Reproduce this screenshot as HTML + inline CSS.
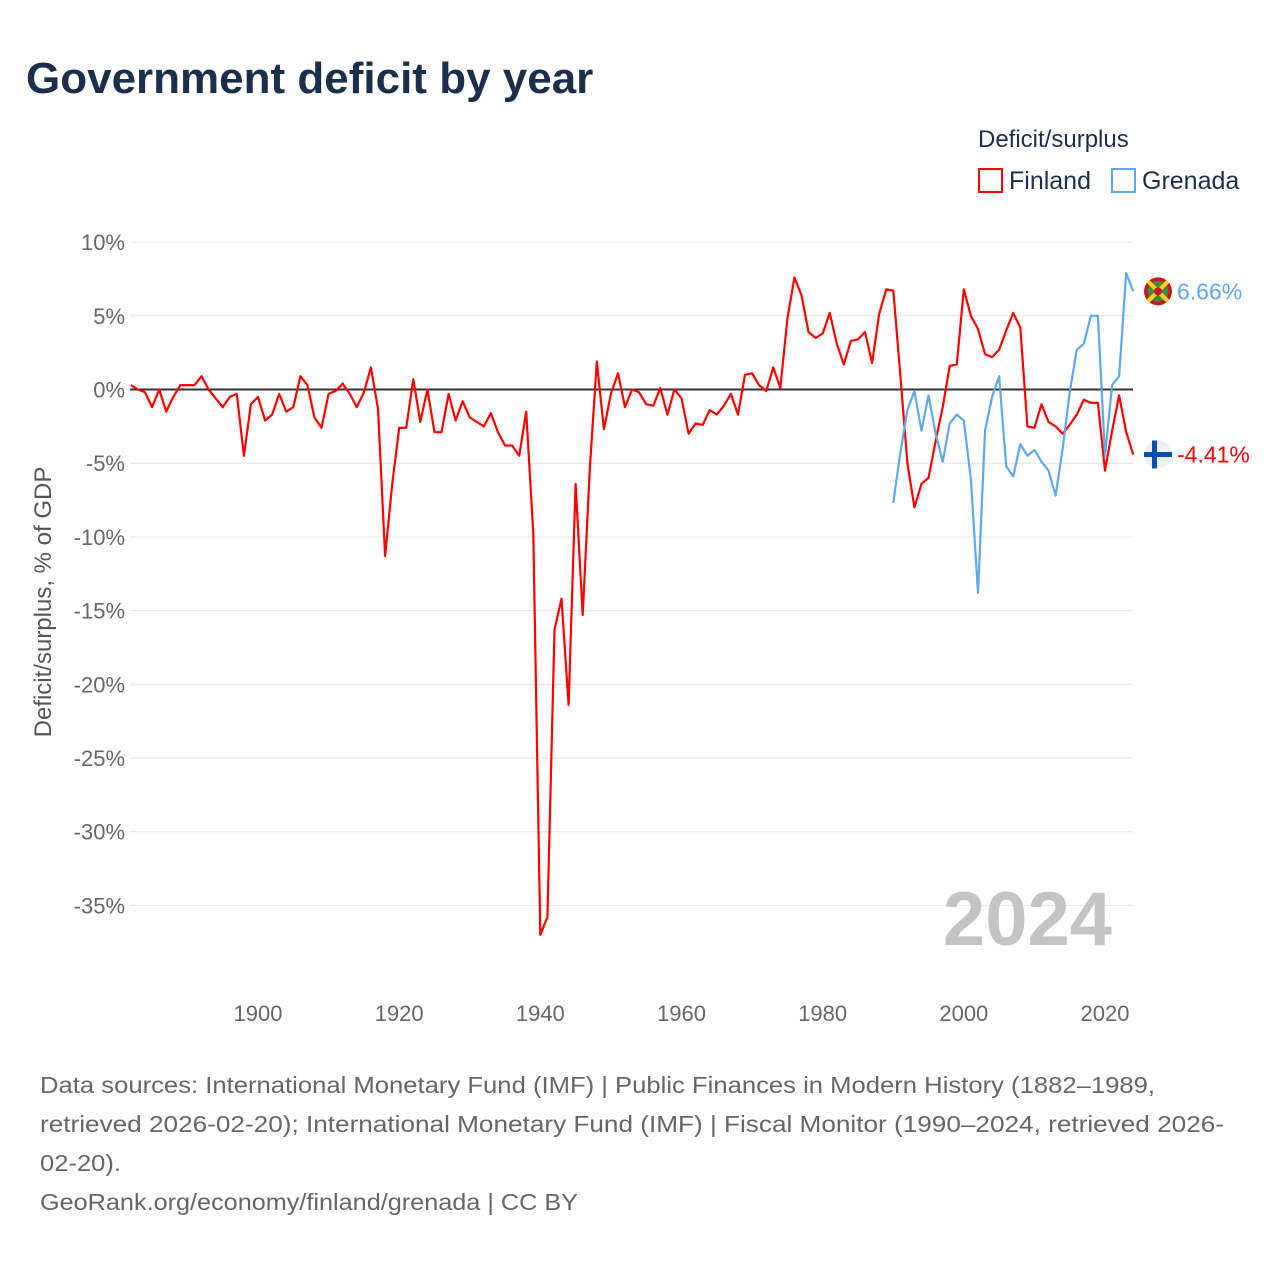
<!DOCTYPE html>
<html><head><meta charset="utf-8"><style>
body{margin:0;background:#fff;font-family:"Liberation Sans",sans-serif;}
#wrap{position:relative;width:1280px;height:1280px;overflow:hidden;}
</style></head><body>
<div id="wrap">
<svg id="chart" width="1280" height="1280">
<text x="26" y="93" font-size="44" font-weight="bold" fill="#1b2f4d">Government deficit by year</text>
<text x="978" y="147" font-size="24" fill="#1b2f4d">Deficit/surplus</text>
<g><rect x="979" y="169" width="23" height="23" fill="none" stroke="#ff0000" stroke-width="2"/><text x="1009" y="189" font-size="25" fill="#1b2f4d">Finland</text></g>
<g><rect x="1112" y="169" width="23" height="23" fill="none" stroke="#5fa8ec" stroke-width="2"/><text x="1142" y="189" font-size="25" fill="#1b2f4d">Grenada</text></g>
<g id="grid"></g><g id="yt"></g><g id="xt"></g>
<text x="1112" y="945" font-size="76" font-weight="bold" fill="#c4c4c4" text-anchor="end">2024</text>
<text transform="translate(51,602) rotate(-90)" font-size="24" fill="#555" text-anchor="middle">Deficit/surplus, % of GDP</text>
<g id="series"></g>
<g font-size="23" fill="#666">
<text x="40" y="1093" textLength="1115" lengthAdjust="spacingAndGlyphs">Data sources: International Monetary Fund (IMF) | Public Finances in Modern History (1882–1989,</text>
<text x="40" y="1132" textLength="1184" lengthAdjust="spacingAndGlyphs">retrieved 2026-02-20); International Monetary Fund (IMF) | Fiscal Monitor (1990–2024, retrieved 2026-</text>
<text x="40" y="1171" textLength="81" lengthAdjust="spacingAndGlyphs">02-20).</text>
<text x="40" y="1210" textLength="538" lengthAdjust="spacingAndGlyphs">GeoRank.org/economy/finland/grenada | CC BY</text>
</g>
</svg></div>
<script>
const finlandValues=[0.3,0,-0.2,-1.2,0,-1.5,-0.5,0.3,0.3,0.3,0.9,0,-0.6,-1.2,-0.5,-0.3,-4.5,-1.0,-0.5,-2.1,-1.7,-0.3,-1.5,-1.2,0.9,0.3,-1.9,-2.6,-0.3,-0.1,0.4,-0.3,-1.2,-0.2,1.5,-1.3,-11.3,-6.5,-2.6,-2.6,0.7,-2.2,0,-2.9,-2.9,-0.3,-2.1,-0.8,-1.9,-2.2,-2.5,-1.6,-2.9,-3.8,-3.8,-4.5,-1.5,-9.8,-37,-35.8,-16.3,-14.2,-21.4,-6.4,-15.3,-5.5,1.9,-2.7,-0.3,1.1,-1.2,0,-0.2,-1.0,-1.1,0.1,-1.7,0,-0.6,-3.0,-2.3,-2.4,-1.4,-1.7,-1.1,-0.3,-1.7,1.0,1.1,0.3,-0.1,1.5,0.1,4.8,7.6,6.4,3.9,3.5,3.8,5.2,3.1,1.7,3.3,3.4,3.9,1.8,5.1,6.8,6.7,1.0,-5.0,-8.0,-6.4,-6.0,-3.5,-1.2,1.6,1.7,6.8,5.0,4.1,2.4,2.2,2.7,4.0,5.2,4.2,-2.5,-2.6,-1.0,-2.2,-2.5,-3.0,-2.4,-1.7,-0.7,-0.9,-0.9,-5.5,-2.8,-0.4,-2.9,-4.41];
const finlandStart=1882;
const grenadaValues=[-7.7,-4.3,-1.4,-0.1,-2.8,-0.4,-3.0,-4.9,-2.3,-1.7,-2.1,-6.1,-13.8,-2.8,-0.5,0.9,-5.2,-5.9,-3.7,-4.5,-4.1,-4.9,-5.5,-7.2,-4.0,-0.2,2.7,3.1,5.0,5.0,-4.5,0.3,0.9,7.9,6.66];
const grenadaStart=1990;
const yTicks=[10,5,0,-5,-10,-15,-20,-25,-30,-35];
const xTicks=[1900,1920,1940,1960,1980,2000,2020];
const X=y=>258+(y-1900)*847/120;
const Y=v=>389.5-v*14.74;
const NS="http://www.w3.org/2000/svg";
function mk(t,a,p){const e=document.createElementNS(NS,t);for(const k in a)e.setAttribute(k,a[k]);p.appendChild(e);return e;}
const grid=document.getElementById('grid'),yt=document.getElementById('yt'),xt=document.getElementById('xt'),ser=document.getElementById('series');
yTicks.forEach(v=>{
 const l=mk('line',{x1:130,x2:1133,y1:Y(v),y2:Y(v),stroke:v===0?'#333':'#e6e6e6','stroke-width':v===0?2:1},grid);
 
 
 const t=mk('text',{x:125,y:Y(v)+8,'font-size':22,fill:'#666','text-anchor':'end'},yt);t.textContent=v+'%';
 
 
});
xTicks.forEach(y=>{
 const t=mk('text',{x:X(y),y:1021,'font-size':22,fill:'#666','text-anchor':'middle'},xt);t.textContent=y;
 
 
});
function line(vals,start,col,name){
 const d=vals.map((v,i)=>(i?'L':'M')+X(start+i).toFixed(1)+','+Y(v).toFixed(1)).join('');
 const p=mk('path',{d:d,fill:'none',stroke:col,'stroke-width':2.2,'stroke-linejoin':'round'},ser);
 
 
}
line(finlandValues,finlandStart,'#ff0000','finland-line');
line(grenadaValues,grenadaStart,'#5fa8ec','grenada-line');
function endLabel(v,col,name,flag){
 const cy=Y(v),cx=1158;
 const g=mk('g',{},ser);
 
 
 if(flag==='fi'){
  mk('circle',{cx:cx,cy:cy,r:14,fill:'#eef0f4'},g);
  mk('rect',{x:cx-14,y:cy-2.5,width:28,height:5,fill:'#0a4fb0'},g);
  mk('rect',{x:cx-6,y:cy-14,width:5,height:28,fill:'#0a4fb0'},g);
 }else{
  mk('circle',{cx:cx,cy:cy,r:14,fill:'#ce1126'},g);
  mk('circle',{cx:cx,cy:cy,r:10.5,fill:'#3c8a3c'},g);
  mk('path',{d:`M${cx-10},${cy-10}L${cx+10},${cy+10}M${cx+10},${cy-10}L${cx-10},${cy+10}`,stroke:'#fcd116','stroke-width':4},g);
  mk('circle',{cx:cx,cy:cy,r:4,fill:'#ce1126'},g);
 }
 const t=mk('text',{x:1177,y:cy+8,'font-size':23,fill:col},g);t.textContent=v.toFixed(2)+'%';
}
endLabel(grenadaValues[grenadaValues.length-1],'#5fa8ec','grenada-end-label','gd');
endLabel(finlandValues[finlandValues.length-1],'#ff0000','finland-end-label','fi');
</script>
</body></html>
